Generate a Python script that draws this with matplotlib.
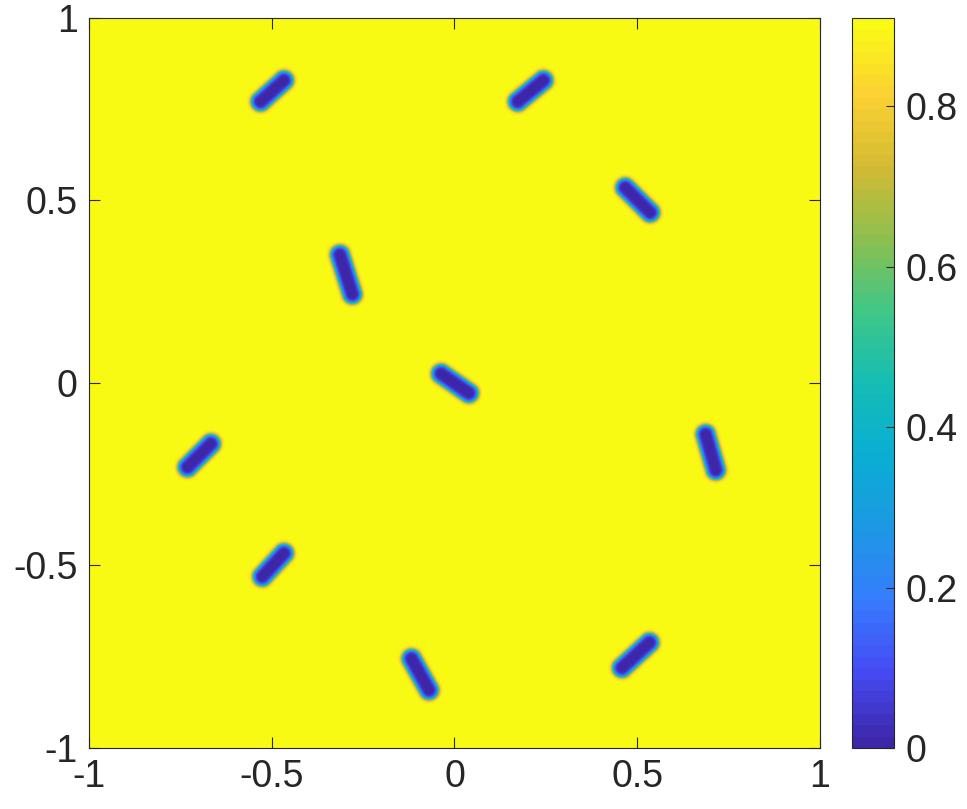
import numpy as np
import matplotlib
matplotlib.use('Agg')
import matplotlib.pyplot as plt
from matplotlib.colors import LinearSegmentedColormap

# концы стержней (центральная линия), координаты x0, y0, x1, y1
rod_x0 = [-0.532, 0.172, 0.466, -0.315, -0.038, -0.732, 0.686, -0.527, -0.119, 0.457]
rod_y0 = [0.770, 0.770, 0.534, 0.350, 0.024, -0.232, -0.142, -0.532, -0.757, -0.782]
rod_x1 = [-0.468, 0.242, 0.534, -0.281, 0.038, -0.668, 0.714, -0.468, -0.071, 0.532]
rod_y1 = [0.828, 0.828, 0.466, 0.242, -0.029, -0.168, -0.240, -0.468, -0.843, -0.713]
rod_r = 0.025      # полуширина стержня
eps = 0.007        # ширина переходного слоя
phi_max = 0.91     # значение вне стержней

cb_ticks = [0, 0.2, 0.4, 0.6, 0.8]
ax_ticks = [-1, -0.5, 0, 0.5, 1]

# parula (приближённо)
parula_pts = [(0.2422, 0.1504, 0.6603), (0.2740, 0.2950, 0.9600), (0.2100, 0.4900, 0.9900),
              (0.1100, 0.6000, 0.8900), (0.0400, 0.6800, 0.8300), (0.0800, 0.7400, 0.7100),
              (0.2500, 0.7800, 0.5300), (0.5500, 0.7500, 0.3100), (0.8300, 0.7300, 0.2000),
              (0.9900, 0.8200, 0.2000), (0.9769, 0.9839, 0.0805)]
parula = LinearSegmentedColormap.from_list('parula', parula_pts, N=64)

n = 600
xs = np.linspace(-1, 1, n)
X, Y = np.meshgrid(xs, xs)
D = np.full_like(X, 10.0)
for i in range(len(rod_x0)):
    ax_, ay_ = rod_x0[i], rod_y0[i]
    bx, by = rod_x1[i], rod_y1[i]
    dx, dy = bx - ax_, by - ay_
    t = ((X - ax_) * dx + (Y - ay_) * dy) / (dx * dx + dy * dy)
    t = np.clip(t, 0, 1)
    d = np.hypot(X - ax_ - t * dx, Y - ay_ - t * dy)
    D = np.minimum(D, d)
phi = phi_max * 0.5 * (1 + np.tanh((D - rod_r) / eps))

plt.rcParams['font.family'] = ['Liberation Sans', 'DejaVu Sans']
fig = plt.figure(figsize=(9.67, 8.09), dpi=100)
ax = fig.add_axes([0.092, 0.0754, 0.756, 0.9024])
im = ax.imshow(phi, extent=[-1, 1, -1, 1], origin='lower', cmap=parula,
               vmin=0, vmax=phi_max, aspect='auto', interpolation='bilinear')
ax.set_xticks(ax_ticks)
ax.set_yticks(ax_ticks)
ax.set_xticklabels(['-1', '-0.5', '0', '0.5', '1'])
ax.set_yticklabels(['-1', '-0.5', '0', '0.5', '1'])
c = '#262626'
ax.tick_params(direction='in', top=True, right=True, length=8, width=0.8,
               labelsize=27, colors=c, pad=8)
for s in ax.spines.values():
    s.set_color(c)
    s.set_linewidth(0.8)

cax = fig.add_axes([0.881, 0.0754, 0.0434, 0.9024])
cb = fig.colorbar(im, cax=cax)
cb.set_ticks(cb_ticks)
cb.set_ticklabels(['0', '0.2', '0.4', '0.6', '0.8'])
cb.ax.tick_params(direction='in', length=6, width=0.8, labelsize=27, colors=c, pad=8)
cb.outline.set_edgecolor(c)
cb.outline.set_linewidth(0.8)

plt.savefig('out.png', dpi=100)
plt.close()
